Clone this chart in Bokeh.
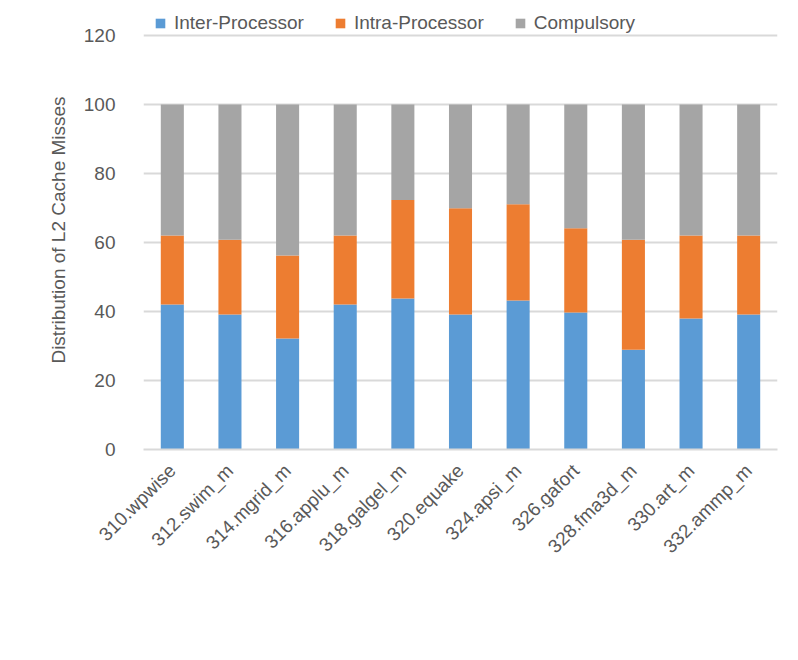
from bokeh.plotting import figure
from bokeh.models import Legend, LegendItem, FixedTicker
from bokeh.embed import file_html
from bokeh.resources import INLINE
import math

categories = ["310.wpwise", "312.swim_m", "314.mgrid_m", "316.applu_m", "318.galgel_m",
              "320.equake", "324.apsi_m", "326.gafort", "328.fma3d_m", "330.art_m", "332.ammp_m"]
inter = [42.0, 39.1, 32.2, 42.0, 43.8, 39.1, 43.2, 39.7, 28.9, 38.0, 39.1]
intra = [20.0, 21.7, 24.0, 20.0, 28.5, 30.8, 27.9, 24.4, 31.9, 24.0, 22.9]
compulsory = [round(100 - a - b, 1) for a, b in zip(inter, intra)]
series = ["Inter-Processor", "Intra-Processor", "Compulsory"]
colors = ["#5B9BD5", "#ED7D31", "#A5A5A5"]
y_ticks = [0, 20, 40, 60, 80, 100, 120]

FONT = "Liberation Sans"
TXT = "#595959"

data = {"cat": categories, "Inter-Processor": inter, "Intra-Processor": intra, "Compulsory": compulsory}

# frame extends a little above 120 so the legend can sit inside the (clipped) frame
p = figure(x_range=categories, y_range=(0, 127.25), width=798, height=660,
           output_backend="svg", toolbar_location=None,
           min_border_left=143, min_border_right=21, min_border_top=10, min_border_bottom=211)
p.outline_line_color = None
p.background_fill_color = "white"
p.border_fill_color = "white"

renderers = p.vbar_stack(series, x="cat", width=0.4, color=colors, line_color=None, source=data)

p.xgrid.grid_line_color = None
p.ygrid.grid_line_color = "#D9D9D9"
p.ygrid.grid_line_width = 2
p.yaxis.ticker = FixedTicker(ticks=y_ticks)
p.yaxis.axis_line_color = None
p.yaxis.major_tick_line_color = None
p.yaxis.minor_tick_line_color = None
p.yaxis.major_label_text_font = FONT
p.yaxis.major_label_text_font_size = "19px"
p.yaxis.major_label_text_color = TXT
p.yaxis.major_label_standoff = 22
p.yaxis.axis_label = "Distribution of L2 Cache Misses"
p.yaxis.axis_label_text_font = FONT
p.yaxis.axis_label_text_font_style = "normal"
p.yaxis.axis_label_text_font_size = "19px"
p.yaxis.axis_label_text_color = TXT
p.yaxis.axis_label_standoff = 12

p.xaxis.axis_line_color = "#D9D9D9"
p.xaxis.axis_line_width = 2
p.xaxis.major_tick_line_color = None
p.xaxis.minor_tick_line_color = None
p.xaxis.major_label_orientation = math.pi / 4
p.xaxis.major_label_text_font = FONT
p.xaxis.major_label_text_font_size = "19px"
p.xaxis.major_label_text_color = TXT
p.xaxis.major_label_standoff = 12

legend = Legend(items=[LegendItem(label=s, renderers=[r]) for s, r in zip(series, renderers)],
                orientation="horizontal", location=(11, 415), border_line_color=None,
                background_fill_alpha=0, label_text_font=FONT, label_text_font_size="19px",
                label_text_color=TXT, glyph_width=12, glyph_height=12, spacing=30,
                label_standoff=8, padding=0, margin=0)
p.add_layout(legend, "center")

open("out.html", "w").write(file_html(p, INLINE))
